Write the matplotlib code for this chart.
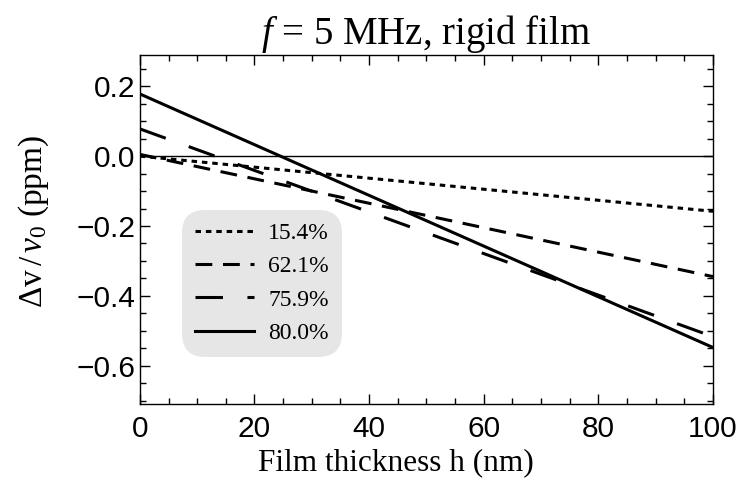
import matplotlib
matplotlib.use("Agg")
import matplotlib.pyplot as plt
from matplotlib.ticker import MultipleLocator

plt.rcParams["mathtext.fontset"] = "custom"
plt.rcParams["mathtext.rm"] = "Liberation Serif"
plt.rcParams["mathtext.it"] = "Liberation Serif:italic"
plt.rcParams["mathtext.bf"] = "Liberation Serif:bold"

thickness = [0, 100]
labels = ["15.4%", "62.1%", "75.9%", "80.0%"]
series = {
    "15.4%": [0.0, -0.158],
    "62.1%": [0.005, -0.345],
    "75.9%": [0.078, -0.517],
    "80.0%": [0.178, -0.548],
}
styles = {
    "15.4%": (0, (1.8, 1.6)),
    "62.1%": (0, (5.5, 3.5)),
    "75.9%": (0, (9, 8)),
    "80.0%": "-",
}
xticks = [0, 20, 40, 60, 80, 100]
xticklabels = ["0", "20", "40", "60", "80", "100"]
yticks = [-0.6, -0.4, -0.2, 0.0, 0.2]
yticklabels = ["\u22120.6", "\u22120.4", "\u22120.2", "0.0", "0.2"]

fig = plt.figure(figsize=(7.4, 4.94), dpi=100)
ax = fig.add_axes([0.189, 0.182, 0.7745, 0.707])

ax.axhline(0, color="black", lw=1.0)
for lab in labels:
    ax.plot(thickness, series[lab], color="black", lw=2.2, linestyle=styles[lab], label=lab)

ax.set_xlim(0, 100)
ax.set_ylim(-0.71, 0.29)
ax.xaxis.set_minor_locator(MultipleLocator(5))
ax.yaxis.set_minor_locator(MultipleLocator(0.05))
ax.set_xticks(xticks)
ax.set_xticklabels(xticklabels, fontfamily="Liberation Sans", fontsize=21.5)
ax.set_yticks(yticks)
ax.set_yticklabels(yticklabels, fontfamily="Liberation Sans", fontsize=21.5)
ax.tick_params(which="both", direction="in", top=True, right=True, width=1)
ax.tick_params(which="major", length=7)
ax.tick_params(which="minor", length=4)
ax.tick_params(axis="x", pad=8)
ax.tick_params(axis="y", pad=3)
for s in ax.spines.values():
    s.set_linewidth(1.0)

ax.set_xlabel("Film thickness h (nm)", fontfamily="Liberation Serif", fontsize=22.5)
ax.xaxis.set_label_coords(0.447, -0.127)
ax.set_ylabel(r"$\Delta$v$\,/\,\nu_0$ (ppm)", fontfamily="Liberation Serif", fontsize=24)
ax.yaxis.set_label_coords(-0.155, 0.523)
ax.set_title(r"$f$ = 5 MHz, rigid film", fontfamily="Liberation Serif", fontsize=28, pad=4)

leg = ax.legend(loc="upper left", bbox_to_anchor=(0.0733, 0.557), borderaxespad=0,
                frameon=True, fancybox=True,
                handlelength=2.5, prop={"family": "Liberation Serif", "size": 17},
                labelspacing=0.5, borderpad=0.55, handletextpad=0.6)
frame = leg.get_frame()
frame.set_facecolor("#e6e6e6")
frame.set_edgecolor("none")
frame.set_alpha(1)
frame.set_boxstyle("round,pad=0,rounding_size=1.0")

fig.savefig("out.png", dpi=100)
